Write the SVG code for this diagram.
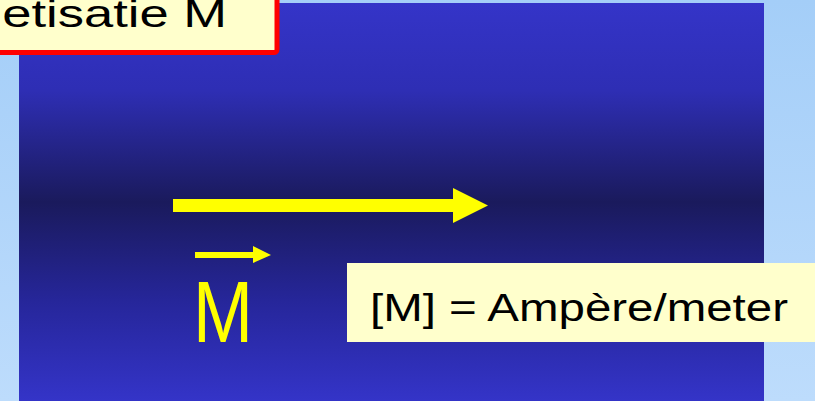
<svg xmlns="http://www.w3.org/2000/svg" width="815" height="401" viewBox="0 0 815 401">
  <defs>
    <linearGradient id="bg" x1="0" y1="0" x2="0" y2="1">
      <stop offset="0" stop-color="#a4cef8"/>
      <stop offset="1" stop-color="#bddcfc"/>
    </linearGradient>
    <linearGradient id="panel" x1="0" y1="0" x2="0" y2="1">
      <stop offset="0" stop-color="#3434c8"/>
      <stop offset="0.22" stop-color="#2e2eb4"/>
      <stop offset="0.5" stop-color="#1a1a5c"/>
      <stop offset="0.75" stop-color="#26269a"/>
      <stop offset="1" stop-color="#3434c8"/>
    </linearGradient>
    <style>
      .lbl { font-family: "Liberation Sans", Arial, sans-serif; fill: #000; }
      .note { fill: #ffffcc; }
      .arrow { fill: #ffff00; }
    </style>
  </defs>
  <rect x="0" y="0" width="815" height="401" fill="url(#bg)"/>
  <rect x="19" y="3" width="745" height="398" fill="url(#panel)"/>

  <g id="title">
    <rect x="-20" y="-20" width="297" height="72.5" rx="3" class="note" stroke="#ff0000" stroke-width="5"/>
    <text x="-129" y="27" class="lbl" font-size="38" textLength="356" lengthAdjust="spacingAndGlyphs">Magnetisatie M</text>
  </g>

  <g id="connectors">
    <polygon class="arrow" points="173,199 453,199 453,188 488,205.5 453,223 453,212 173,212"/>
    <polygon class="arrow" points="195,252 253,252 253,246 271,255 253,263 253,258 195,258"/>
  </g>

  <g id="symbol">
    <text x="193" y="342" font-family="Liberation Sans, Arial, sans-serif" font-size="88" fill="#ffff00" textLength="60" lengthAdjust="spacingAndGlyphs">M</text>
  </g>

  <g id="unit">
    <rect x="347" y="263" width="468" height="79" class="note"/>
    <text x="370" y="321" class="lbl" font-size="38" textLength="418" lengthAdjust="spacingAndGlyphs">[M] = Ampère/meter</text>
  </g>
</svg>
